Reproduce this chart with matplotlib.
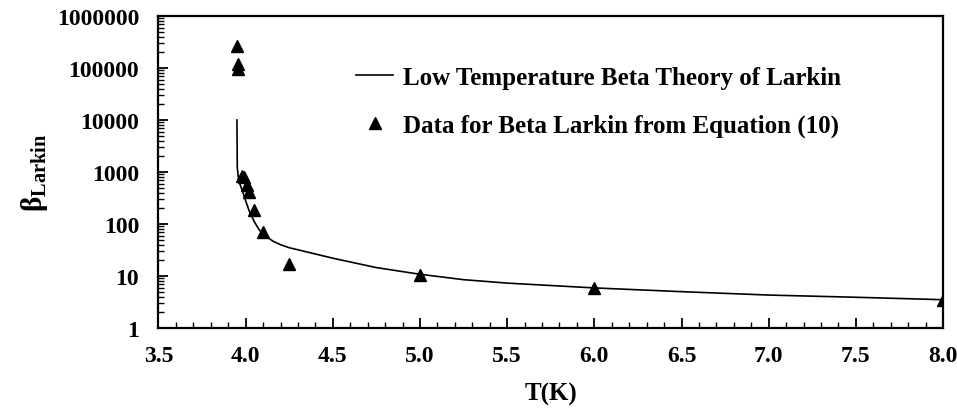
import matplotlib
matplotlib.use("Agg")
import matplotlib.pyplot as plt
from matplotlib.ticker import LogLocator, MultipleLocator, FixedLocator, NullFormatter

plt.rcParams['font.family'] = ['Liberation Serif', 'DejaVu Serif']
plt.rcParams['font.weight'] = 'bold'
plt.rcParams['mathtext.fontset'] = 'custom'
plt.rcParams['mathtext.rm'] = 'Liberation Serif'
plt.rcParams['mathtext.bf'] = 'Liberation Serif:bold'

# theory curve
theory_T = [3.95, 3.952, 3.96, 3.97, 3.98, 4.0, 4.02, 4.05, 4.08, 4.12, 4.16, 4.2, 4.25,
            4.5, 4.75, 5.0, 5.25, 5.5, 6.0, 6.5, 7.0, 7.5, 8.0]
theory_beta = [10000, 1200, 700, 550, 450, 280, 180, 110, 75, 57, 46, 40, 35,
               22, 14.5, 10.8, 8.5, 7.3, 5.9, 5.0, 4.3, 3.9, 3.5]

# data points from equation (10)
data_T = [3.95, 3.955, 3.958, 3.98, 3.99, 4.01, 4.02, 4.05, 4.1, 4.25, 5.0, 6.0, 8.0]
data_beta = [265000, 120000, 95000, 850, 800, 560, 410, 185, 70, 17, 10.5, 5.9, 3.4]

xticks = [3.5, 4.0, 4.5, 5.0, 5.5, 6.0, 6.5, 7.0, 7.5, 8.0]
yticks = [1, 10, 100, 1000, 10000, 100000, 1000000]

fig = plt.figure(figsize=(9.57, 4.14), dpi=100)
ax = fig.add_axes([0.1656, 0.2053, 0.8198, 0.7537])

ax.plot(theory_T, theory_beta, color='black', lw=1.2,
        label='Low Temperature Beta Theory of Larkin')
ax.plot(data_T, data_beta, linestyle='none', marker='^', color='black',
        markersize=9, label='Data for Beta Larkin from Equation (10)')

ax.set_yscale('log')
ax.set_xlim(3.5, 8.0)
ax.set_ylim(1, 1000000)

ax.xaxis.set_major_locator(FixedLocator(xticks))
ax.set_xticklabels(['%.1f' % t for t in xticks])
ax.xaxis.set_minor_locator(MultipleLocator(0.1))
ax.yaxis.set_major_locator(FixedLocator(yticks))
ax.set_yticklabels([str(v) for v in yticks])
ax.yaxis.set_minor_locator(LogLocator(base=10, subs=range(2, 10), numticks=20))
ax.yaxis.set_minor_formatter(NullFormatter())

ax.tick_params(axis='both', which='major', direction='in', length=7, width=1.3,
               labelsize=17)
ax.tick_params(axis='x', which='major', pad=12)
ax.tick_params(axis='y', which='major', pad=14)
ax.tick_params(axis='both', which='minor', direction='in', length=4, width=1.0)
ax.tick_params(top=False, right=False, which='both')
for s in ax.spines.values():
    s.set_linewidth(1.6)

ax.set_xlabel('T(K)', fontsize=18, fontweight='bold', labelpad=12)
ax.set_ylabel(r'$\mathrm{\beta}_{\mathbf{Larkin}}$', fontsize=21, labelpad=5)

ax.legend(loc='center left', bbox_to_anchor=(0.223, 0.725), frameon=False,
          fontsize=18, handlelength=1.5, handletextpad=0.4, labelspacing=1.0)

fig.savefig('out.png', dpi=100)
